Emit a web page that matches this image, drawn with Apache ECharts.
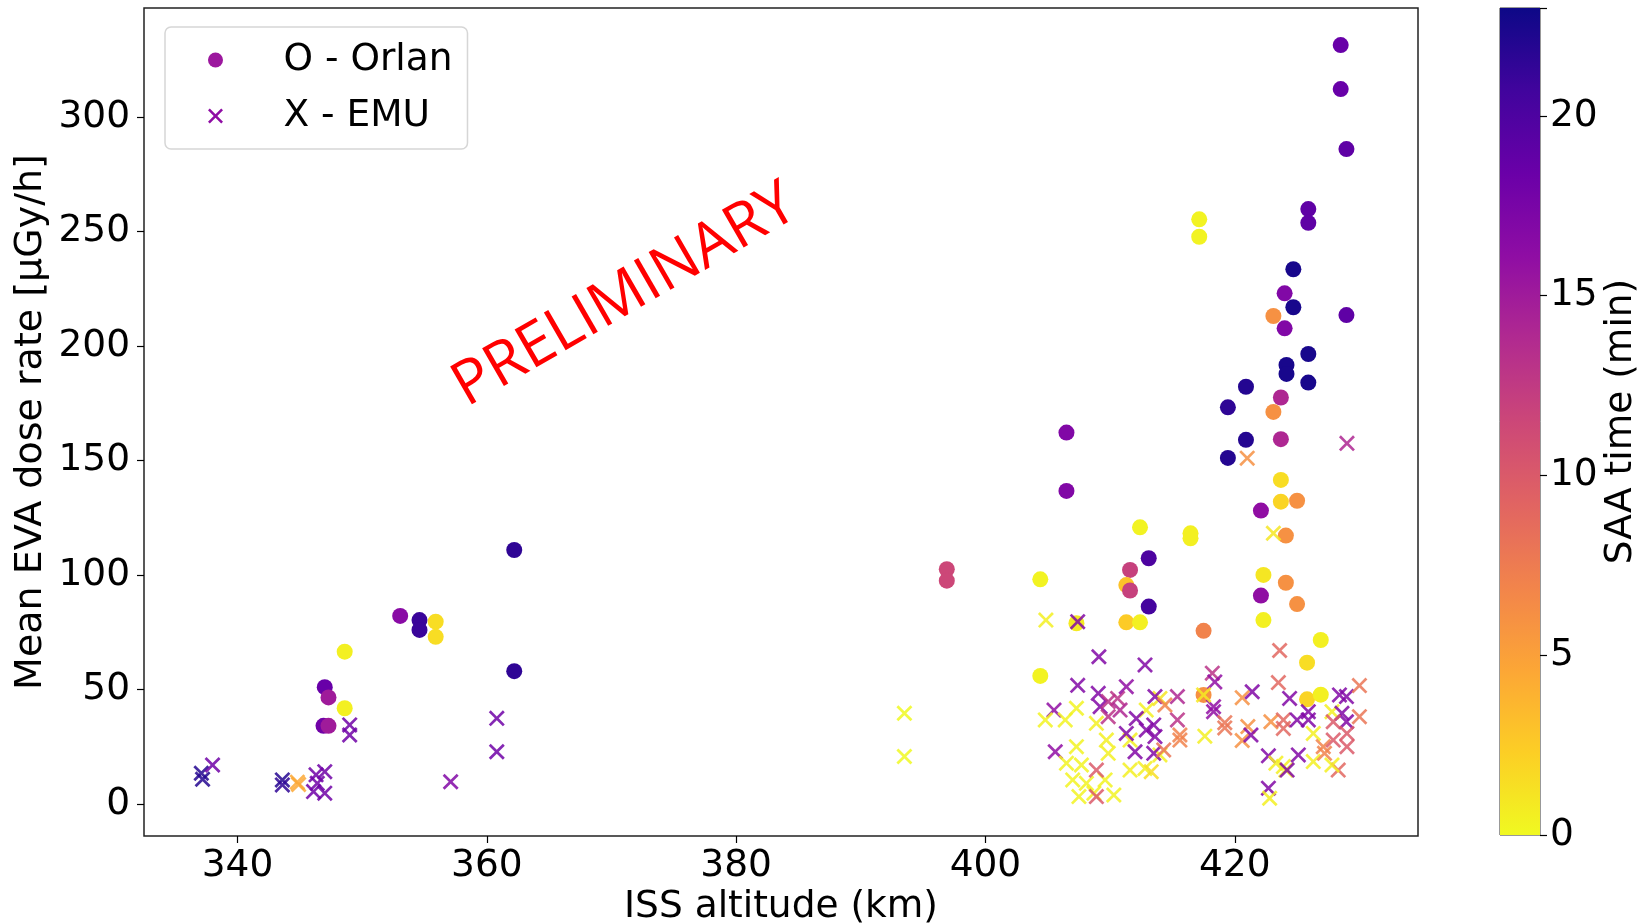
<!DOCTYPE html>
<html><head><meta charset="utf-8">
<script src="https://cdn.jsdelivr.net/npm/echarts@6/dist/echarts.min.js"></script>
<style>html,body{margin:0;padding:0;background:#fff}#c{width:1642px;height:923px}</style>
</head><body><div id="c"></div>
<script>
// ---- data: [ISS altitude (km), mean EVA dose rate (µGy/h), SAA time (min)] ----
const orlan = [
  [353.05,82.1,16.5],[354.6,80.3,21],[354.6,76.0,21],[355.9,79.6,1.5],[355.9,73.0,1.5],
  [348.6,66.5,0.5],[347.0,51.0,18.5],[347.3,46.5,15],[348.6,41.8,0.5],[346.9,34.1,18],
  [347.3,34.1,15],[362.2,110.9,21.5],[362.2,58.0,21.5],
  [396.9,102.5,11.5],[396.9,97.5,11.5],[404.4,98.1,0.3],[404.4,55.9,0.3],
  [406.5,162.2,17],[406.5,136.7,17],[407.3,78.9,0.8],
  [412.4,120.8,0.3],[416.45,118.2,0.5],[416.45,116.0,0.5],[413.1,107.3,20],[411.6,102.2,12],
  [411.3,95.6,3],[411.6,93.2,12],[413.1,86.2,20.5],[411.3,79.3,2.5],[412.4,79.3,0.5],
  [417.5,75.6,7],[417.5,47.6,6],
  [428.5,331.4,18.5],[428.5,312.2,18.5],[428.96,286.0,19],[425.9,259.8,19],[425.9,253.8,19],
  [417.15,255.3,0.3],[417.15,247.7,0.3],[424.7,233.5,22.5],[424.0,223.0,17],[424.7,216.9,22.5],
  [423.1,213.1,6],[428.96,213.5,19],[424.0,207.7,17],[425.9,196.5,22.5],[424.15,191.7,22.5],
  [424.15,187.8,22.5],[425.9,184.0,22.5],[420.9,182.2,22],[419.45,173.2,21.5],[423.7,177.5,14],
  [423.1,171.2,6],[420.9,159.0,22],[423.7,159.3,14],[419.45,151.1,22],[423.7,141.5,1.5],
  [423.7,132.0,2],[425.0,132.4,6],[422.1,128.1,16],[424.1,117.2,6],[422.3,100.0,1],
  [424.1,96.6,6],[422.1,91.0,16],[425.0,87.3,6],[422.3,80.3,0.5],[426.9,71.6,0.5],
  [425.8,61.7,1.5],[425.8,45.7,2],[426.9,47.7,0.5]
];
const emu = [
  [337.1,13.4,22],[337.2,10.8,22],[338.0,17.0,18],[343.6,10.5,22],[343.6,8.3,21.5],
  [344.8,9.5,4.5],[344.9,8.5,4.5],[346.3,12.7,18],[346.4,9.0,18],[346.1,5.4,18],
  [347.0,14.1,18],[347.0,4.7,18],[349.0,34.5,18],[349.0,30.1,18],[357.1,9.7,17],
  [360.8,37.4,18],[360.8,22.8,18],[393.5,39.6,0],[393.5,20.7,0],
  [404.85,80.3,0.5],[407.4,79.6,17],[409.1,64.3,17],[412.8,60.7,17],[407.4,51.8,17],
  [405.5,41.0,16],[405.6,22.8,16],[404.8,36.7,0.3],[406.4,36.7,0.3],[407.3,41.8,0.3],
  [407.3,25.0,0.3],[406.5,17.8,0.3],[407.7,17.0,0.3],[407.0,10.5,0.3],[408.1,9.0,0.3],
  [409.6,10.5,0.3],[407.5,3.2,0.3],[408.7,4.7,0.3],[410.3,3.9,0.3],[408.9,35.2,0.5],
  [409.7,27.9,0.5],[409.85,22.1,0.5],[411.6,14.8,0.5],[412.8,15.5,0.5],[413.3,14.1,1.5],
  [411.6,27.9,0.5],[414.0,21.4,0.5],[412.9,41.0,0.5],[414.0,46.1,1],
  [408.9,14.8,10],[408.9,3.2,10],[409.05,48.3,17],[409.2,42.5,17],[409.85,44.7,13],
  [410.6,46.1,13],[410.8,41.0,14],[409.85,38.1,13],[411.3,51.2,16],[412.1,37.3,17],
  [412.9,32.3,17],[413.5,34.5,17],[413.6,29.4,17],[411.3,30.8,17],[412.0,22.8,17],
  [413.5,22.1,17],[413.6,46.9,17],[415.4,46.9,14],[415.4,36.7,13],[414.4,43.2,7],
  [415.6,30.1,7],[415.6,27.9,7],[414.3,23.6,8],[418.2,57.1,13],[418.4,53.3,16],
  [418.3,42.5,16],[418.3,40.3,16],[417.5,47.6,0.8],[417.6,29.6,0.5],[419.2,35.5,8],
  [419.2,33.2,8],[420.6,46.4,6],[421.4,49.0,17],[420.6,27.7,6],[421.05,33.8,6],
  [421.3,30.1,17],[421.0,151.0,6],[423.6,67.0,9],[423.5,53.0,9],[424.4,46.1,17],
  [422.9,35.9,6],[423.9,36.7,9],[423.9,33.0,9],[425.0,36.7,17],[425.9,40.3,17],
  [425.9,36.7,17],[426.3,30.8,0.5],[422.7,21.0,17],[422.7,6.9,17],[422.8,2.5,0.5],
  [423.3,17.8,0.5],[423.9,16.3,0.5],[424.1,14.8,0.5],[424.2,14.8,17],[425.1,21.4,17],
  [426.3,18.5,0.5],[427.1,25.0,7],[427.2,22.1,7],[427.8,40.3,0.5],[428.4,47.6,17],
  [428.96,46.9,17],[430.0,51.7,8],[430.0,38.1,8],[428.6,39.6,17],[428.96,35.9,17],
  [427.9,35.9,10],[427.9,27.9,10],[429.0,30.8,10],[429.0,25.0,10],[428.3,14.8,9],
  [427.8,17.0,0.5],[423.1,118.2,1],[429.0,157.5,14]
];
const xTicks = [340, 360, 380, 400, 420];
const yTicks = [0, 50, 100, 150, 200, 250, 300];
const saaRange = [0, 23];
const saaTickStep = 5;
// plasma colormap, reversed so 0 min = yellow
const plasmaReversed = ['#f0f921','#fcce25','#fca636','#f2844b','#e16462','#cc4778','#b12a90','#8f0da4','#6a00a8','#41049d','#0d0887'];

const FONT = 'DejaVu Sans';
const FS = 37.5;
const X_PATH = 'path://M12,0L50,38L88,0L100,12L62,50L100,88L88,100L50,62L12,100L0,88L38,50L0,12Z';

const chart = echarts.init(document.getElementById('c'), null, {renderer: 'canvas'});
const cbStops = plasmaReversed.map((c, i) => ({offset: i / (plasmaReversed.length - 1), color: c}));

chart.setOption({
  animation: false,
  backgroundColor: '#fff',
  grid: [
    {left: 144, right: 224, top: 8, bottom: 87, show: true, borderColor: '#222', borderWidth: 1.5, backgroundColor: 'transparent', containLabel: false, outerBoundsMode: 'none'},
    {left: 1500, width: 40, top: 8, bottom: 88, show: true, borderColor: '#333', borderWidth: 1, backgroundColor: 'transparent', containLabel: false, outerBoundsMode: 'none'}
  ],
  xAxis: [
    {type: 'value', gridIndex: 0, min: 332.5, max: 434.7,
     name: 'ISS altitude (km)', nameLocation: 'middle', nameGap: 52, nameMoveOverlap: false,
     nameTextStyle: {fontFamily: FONT, fontSize: FS, color: '#000'},
     axisLine: {show: false, onZero: false}, splitLine: {show: false},
     axisTick: {show: true, length: 7, customValues: xTicks, lineStyle: {color: '#000', width: 1.2}},
     axisLabel: {customValues: xTicks, fontFamily: FONT, fontSize: FS, color: '#000', margin: 11}},
    {type: 'category', gridIndex: 1, data: [''], show: false}
  ],
  yAxis: [
    {type: 'value', gridIndex: 0, min: -14.0, max: 347.6,
     name: 'Mean EVA dose rate [µGy/h]', nameLocation: 'middle', nameGap: 94, nameMoveOverlap: false,
     nameTextStyle: {fontFamily: FONT, fontSize: 38, color: '#000'},
     axisLine: {show: false, onZero: false}, splitLine: {show: false},
     axisTick: {show: true, length: 7, customValues: yTicks, lineStyle: {color: '#000', width: 1.2}},
     axisLabel: {customValues: yTicks, fontFamily: FONT, fontSize: FS, color: '#000', margin: 14}},
    {type: 'value', gridIndex: 1, position: 'right', min: saaRange[0], max: saaRange[1], interval: saaTickStep,
     name: 'SAA time (min)', nameLocation: 'middle', nameGap: 62, nameRotate: 90, nameMoveOverlap: false,
     nameTextStyle: {fontFamily: FONT, fontSize: FS, color: '#000'},
     axisLine: {show: false, onZero: false}, splitLine: {show: false},
     axisTick: {show: true, length: 7, lineStyle: {color: '#000', width: 1.2}},
     axisLabel: {fontFamily: FONT, fontSize: FS, color: '#000', margin: 10,
       formatter: v => (v <= 20 ? String(v) : '')}}
  ],
  visualMap: {
    show: false, type: 'continuous', seriesIndex: [0, 1], dimension: 2,
    min: saaRange[0], max: saaRange[1], inRange: {color: plasmaReversed}
  },
  legend: {
    orient: 'vertical', left: 165, top: 27, padding: [14, 15, 14, 43],
    itemGap: 18, itemWidth: 60, itemHeight: 15, selectedMode: false,
    backgroundColor: 'rgba(255,255,255,0.85)', borderColor: '#d6d6d6', borderWidth: 1.5, borderRadius: 6,
    textStyle: {fontFamily: FONT, fontSize: FS, color: '#000', lineHeight: 37, padding: [0, 0, 0, 33]},
    data: [
      {name: 'O - Orlan', icon: 'circle', itemStyle: {color: '#9c179e', opacity: 1}},
      {name: 'X - EMU', icon: X_PATH, itemStyle: {color: '#8f0da4', opacity: 1}}
    ]
  },
  graphic: [{
    type: 'text', x: 625, y: 296, rotation: 30 * Math.PI / 180, z: 100,
    style: {text: 'PRELIMINARY', fill: '#ff0000', font: '61px "Open Sans"', align: 'center', verticalAlign: 'middle'}
  }],
  series: [
    {name: 'O - Orlan', type: 'scatter', xAxisIndex: 0, yAxisIndex: 0, data: orlan,
     symbol: 'circle', symbolSize: 16, itemStyle: {opacity: 1}, z: 2},
    {name: 'X - EMU', type: 'scatter', xAxisIndex: 0, yAxisIndex: 0, data: emu,
     symbol: X_PATH, symbolSize: 16, itemStyle: {opacity: 0.85}, z: 3},
    {name: 'cb', type: 'bar', xAxisIndex: 1, yAxisIndex: 1, data: [saaRange[1]], barWidth: '100%', silent: true,
     itemStyle: {color: {type: 'linear', x: 0, y: 1, x2: 0, y2: 0, colorStops: cbStops}}}
  ]
});
</script></body></html>
